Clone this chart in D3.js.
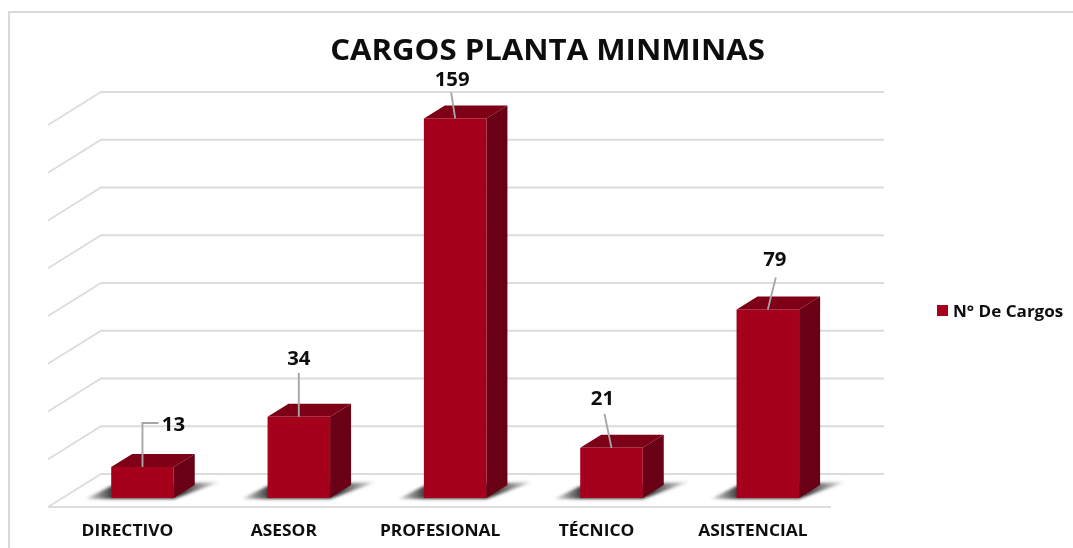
<!DOCTYPE html>
<html><head><meta charset="utf-8">
<script src="https://cdn.jsdelivr.net/npm/d3@7/dist/d3.min.js"></script>
<style>html,body{margin:0;padding:0;background:#fff}svg{display:block}text{font-family:"Open Sans",Lato,sans-serif;font-weight:700;fill:#0d0d0d}</style>
</head><body><div id="c"></div>
<script>
const categories = ["DIRECTIVO","ASESOR","PROFESIONAL","TÉCNICO","ASISTENCIAL"];
const values = [13,34,159,21,79];
const gridTicks = [0,20,40,60,80,100,120,140,160];
const seriesName = "N° De Cargos";
const chartTitle = "CARGOS PLANTA MINMINAS";

const W=1073,H=548;
const svg=d3.select("#c").append("svg").attr("width",W).attr("height",H);
const defs=svg.append("defs");
defs.append("filter").attr("id","sh").attr("x","-30%").attr("y","-100%").attr("width","160%").attr("height","300%")
  .append("feGaussianBlur").attr("stdDeviation","1.6");
defs.append("filter").attr("id","soft").attr("filterUnits","userSpaceOnUse").attr("x",0).attr("y",0).attr("width",W).attr("height",H)
  .append("feGaussianBlur").attr("stdDeviation","0.45");
const sg=defs.append("linearGradient").attr("id","shg");
[[0,.1],[.2,.95],[.72,.95],[1,.08]].forEach(s=>sg.append("stop").attr("offset",s[0]).attr("stop-color","#333").attr("stop-opacity",s[1]));

// Widen glyphs horizontally, as in the reference's stretched text
const stretch=(sel,f)=>sel.each(function(){
  d3.select(this).attr("textLength",this.getComputedTextLength()*f).attr("lengthAdjust","spacingAndGlyphs");
});

const root=svg.append("g").attr("filter","url(#soft)");
root.append("rect").attr("x",9).attr("y",12).attr("width",1300).attr("height",700).attr("fill","none").attr("stroke","#d9d9d9").attr("stroke-width",2);

// Wall / floor geometry
const backY=d3.scaleLinear().domain([0,160]).range([474,92]);
const x=d3.scaleBand().domain(categories).range([64.3,846]).paddingInner(0.6).paddingOuter(0.3);
const wallLeft=101, wallRight=884, floorDx=-53, floorDy=33;
const grid="#dcdcdc";

root.append("g").selectAll("path").data(gridTicks).join("path")
  .attr("fill","none").attr("stroke",grid).attr("stroke-width",1.8)
  .attr("d",d=>d3.line()([[wallLeft+floorDx,backY(d)+floorDy],[wallLeft,backY(d)],[wallRight,backY(d)]]));
root.append("path").attr("fill","none").attr("stroke",grid).attr("stroke-width",1.8)
  .attr("d",d3.line()([[wallLeft+floorDx,backY(0)+floorDy],[wallRight+floorDx,backY(0)+floorDy]]));

// Bars
const base=498, dx=21, dy=-13, pxPer=(backY(0)-backY(1));
const barH=v=>v*pxPer;
const g=root.append("g").selectAll("g").data(categories.map((c,i)=>({c,v:values[i]}))).join("g");
g.append("path").attr("fill","url(#shg)").attr("filter","url(#sh)")
  .attr("d",d=>{const a=x(d.c),b=a+x.bandwidth();return d3.line()([[a-26,base+1],[a,base-12],[b+46,base-16],[b,base+1]])+"Z"});
g.append("path").attr("fill","#7e0016")
  .attr("d",d=>{const a=x(d.c),b=a+x.bandwidth(),t=base-barH(d.v);return d3.line()([[a,t],[a+dx,t+dy],[b+dx,t+dy],[b,t]])+"Z"});
g.append("path").attr("fill","#690012")
  .attr("d",d=>{const b=x(d.c)+x.bandwidth(),t=base-barH(d.v);return d3.line()([[b,t],[b+dx,t+dy],[b+dx,base+dy],[b,base]])+"Z"});
g.append("rect").attr("fill","#a5001f")
  .attr("x",d=>x(d.c)).attr("y",d=>base-barH(d.v)).attr("width",x.bandwidth()).attr("height",d=>barH(d.v));

// Data labels and leader lines
const labelShift=[[31,-43],[0,-59],[-3,-39],[-9,-50],[7,-50]];
const leaderEnd=[[16,-44],[0,-44],[-4,-26],[-7,-34],[8,-32]];
g.append("path").attr("fill","none").attr("stroke","#a6a6a6").attr("stroke-width",1.9)
  .attr("d",(d,i)=>{const cx=x(d.c)+x.bandwidth()/2,t=base-barH(d.v),e=leaderEnd[i];
    return i===0?d3.line()([[cx,t],[cx,t+e[1]],[cx+e[0],t+e[1]]]):d3.line()([[cx,t],[cx+e[0],t+e[1]]]);});
g.append("text").attr("text-anchor","middle").attr("font-size",19).attr("dominant-baseline","central")
  .attr("x",(d,i)=>x(d.c)+x.bandwidth()/2+labelShift[i][0])
  .attr("y",(d,i)=>base-barH(d.v)+labelShift[i][1]).text(d=>d.v).call(stretch,1.07);

// Category labels
const catShift=-15;
g.append("text").attr("text-anchor","middle").attr("font-size",15.5).attr("dominant-baseline","central")
  .attr("x",d=>x(d.c)+x.bandwidth()/2+catShift).attr("y",530).text(d=>d.c).call(stretch,1.12);

// Title and legend
root.append("text").attr("x",547.5).attr("y",48).attr("text-anchor","middle").attr("dominant-baseline","central")
  .attr("font-size",29).text(chartTitle).call(stretch,1.074);
root.append("rect").attr("x",937).attr("y",305).attr("width",11).attr("height",11).attr("fill","#a5001f");
root.append("text").attr("x",953).attr("y",310.5).attr("dominant-baseline","central").attr("font-size",15.5).text(seriesName).call(stretch,1.1);
</script></body></html>
